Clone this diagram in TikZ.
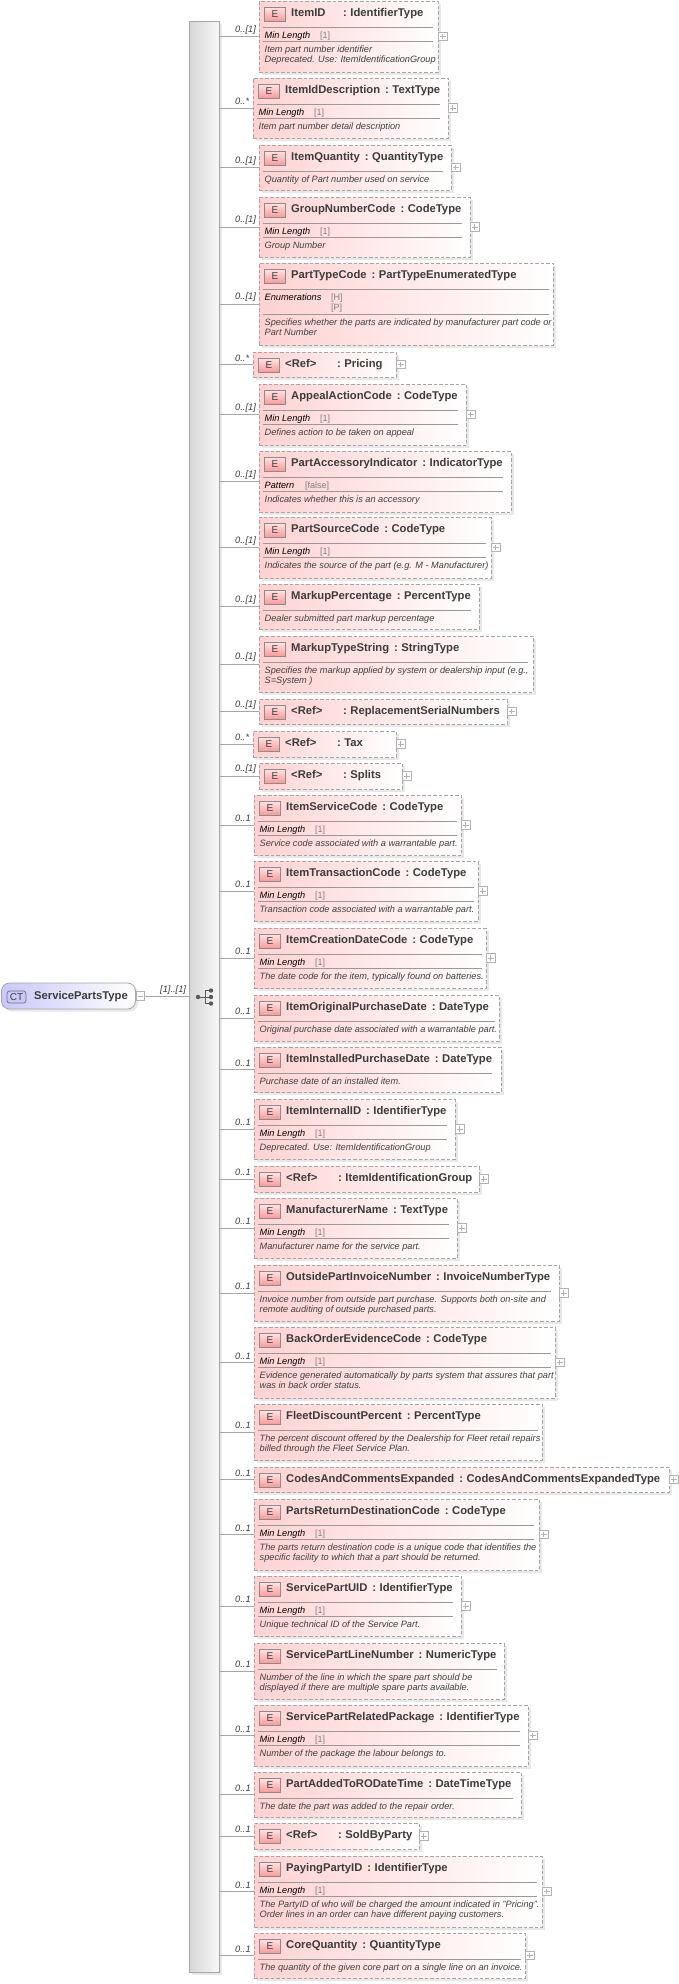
\documentclass[tikz,border=0pt]{standalone}
\usepackage{fontspec}
\setmainfont{Liberation Sans}
\usetikzlibrary{shadows}
\definecolor{linegrey}{HTML}{A6A6A6}
\definecolor{elempink}{HTML}{FFD2D2}
\definecolor{elemmid}{HTML}{FFF0F0}
\definecolor{badgetop}{HTML}{FFE4E4}
\definecolor{badgebottom}{HTML}{F99A9A}
\definecolor{rootblue}{HTML}{C8C8FA}
\definecolor{rootmid}{HTML}{EEEEFF}
\definecolor{titlecol}{HTML}{3C3C3C}
\definecolor{doccol}{HTML}{404040}
\tikzset{
  softshadow/.style={drop shadow={shadow xshift=2.5pt,shadow yshift=-2.5pt,fill=black!9,opacity=1}},
  elemshape/.style={rectangle,anchor=north west,inner sep=0pt,outer sep=0pt,draw=linegrey,dashed,dash pattern=on 3.5pt off 2pt,line width=0.8pt,left color=elempink,middle color=elemmid,right color=white,softshadow},
  seqshape/.style={rectangle,anchor=north west,inner sep=0pt,outer sep=0pt,draw=linegrey,line width=0.8pt,left color=black!16,right color=black!3,softshadow},
  rootshape/.style={rectangle,rounded corners=8pt,anchor=north west,inner sep=0pt,outer sep=0pt,draw=linegrey,line width=0.8pt,left color=rootblue,middle color=rootmid,right color=white,softshadow},
  elembadge/.style={rectangle,anchor=north west,inner sep=0pt,outer sep=0pt,minimum width=21pt,minimum height=14pt,draw=black!45,line width=0.7pt,top color=badgetop,bottom color=badgebottom,text=doccol,font=\fontsize{10}{12}\selectfont},
  rootbadge/.style={rectangle,rounded corners=2.5pt,anchor=north west,inner sep=0pt,outer sep=0pt,minimum width=19pt,minimum height=12pt,draw=black!55,line width=0.7pt,fill=rootblue,text=doccol,font=\fontsize{10}{12}\selectfont},
  titletext/.style={anchor=base west,inner sep=0pt,text=titlecol,font=\fontsize{11.25}{13}\selectfont\bfseries},
  smalltext/.style={anchor=north west,inner sep=0pt,align=left,font=\fontsize{9.2}{10}\selectfont\itshape},
  doctext/.style={smalltext,text=doccol},
  facetlabel/.style={smalltext,text=black},
  facetvalue/.style={anchor=north west,inner sep=0pt,align=left,text=black!50,font=\fontsize{9}{10}\selectfont},
  multtext/.style={anchor=west,inner sep=0pt,text=titlecol,font=\fontsize{9.3}{11}\selectfont\itshape},
  conn/.style={draw=linegrey,line width=0.8pt},
  sepline/.style={draw=black!40,line width=0.6pt},
  plusnode/.style={rectangle,anchor=west,inner sep=0pt,outer sep=0pt,minimum size=8.5pt,draw=black!30,line width=0.6pt,fill=white,xshift=0.5pt},
  icondot/.style={circle,inner sep=0pt,outer sep=0pt,minimum size=4.4pt,fill=black!65},
  iconline/.style={draw=black!65,line width=1pt}
}
\newcommand{\typecolon}{\hskip5pt:\hskip3.5pt}
\newcommand{\shortname}[1]{\makebox[47pt][l]{#1}}
\newcommand{\linetop}{\rule{0pt}{7pt}}
\newcommand{\elembox}[8]{
  \pgfmathsetmacro{\boxw}{#4-#2}
  \pgfmathsetmacro{\boxh}{#5-#3}
  \pgfmathsetmacro{\midy}{(#3+#5)/2}
  \def\curname{#1}\def\curleft{#2}\def\curtop{#3}\def\sepend{#8}
  \node[elemshape,minimum width=\boxw pt,minimum height=\boxh pt] (#1) at (#2,#3) {};
  \draw[conn] (seq.east |- #1.west) -- (#1.west);
  \node[multtext] (#1-mult) at (235,\midy-6.5) {#6};
  \node[elembadge] (#1-badge) at (#2+5.5,#3+6) {E};
  \node[titletext] (#1-title) at (#2+32,#3+15) {#7};
}
\newcommand{\facetrow}[3]{
  \draw[sepline] (\curleft+4,\curtop+26) -- (\sepend,\curtop+26);
  \node[facetlabel] (\curname-facet) at (\curleft+5.5,\curtop+30) {\linetop #1};
  \node[facetvalue] (\curname-value) at (\curleft+#3,\curtop+30) {\linetop #2};
}
\newcommand{\docrow}[2][40]{
  \draw[sepline] (\curleft+4,\curtop+#1) -- (\sepend,\curtop+#1);
  \node[doctext] (\curname-doc) at (\curleft+5.5,\curtop+#1+4) {\linetop #2};
}
\newcommand{\plusbox}{
  \node[plusnode] (\curname-plus) at (\curname.east) {};
  \draw[draw=black!30,line width=0.6pt] (\curname-plus.west) ++(1.5,0) -- ++(5.5,0);
  \draw[draw=black!30,line width=0.6pt] (\curname-plus.north) ++(0,1.5) -- ++(0,5.5);
}
\begin{document}
\begin{tikzpicture}[x=1pt,y=-1pt]
\path[use as bounding box,fill=white] (0,0) rectangle (679,1984);
\node[seqshape,minimum width=30pt,minimum height=1951pt] (seq) at (189,21) {};
\node[icondot] (seqstart) at (198,997) {};
\node[icondot] (seqtop) at (211,990.5) {};
\node[icondot] (seqmid) at (211,997) {};
\node[icondot] (seqlow) at (211,1003.5) {};
\draw[iconline] (seqstart) -- (seqmid);
\draw[iconline] (205,990.5) -- (seqtop);
\draw[iconline] (205,1003.5) -- (seqlow);
\draw[iconline] (205,990) -- (205,1004);
\node[rootshape,minimum width=134pt,minimum height=26pt] (root) at (1.5,983) {};
\node[rootbadge] (rootct) at (7,991) {CT};
\node[titletext] (roottitle) at (34,999) {ServicePartsType};
\node[plusnode] (rootminus) at (root.east) {};
\draw[draw=black!30,line width=0.6pt] (rootminus.west) ++(1.5,0) -- ++(5.5,0);
\draw[conn] (rootminus.east) -- (seq.west |- rootminus.east);
\node[multtext] (rootmult) at (160,990) {[1]..[1]};

\elembox{itemid}{259}{1}{438}{72}{0..[1]}{\shortname{ItemID}\typecolon IdentifierType}{433}
\facetrow{Min Length}{[1]}{61}
\docrow{Item part number identifier\\Deprecated. Use: ItemIdentificationGroup}
\plusbox
\elembox{itemiddescription}{253}{78}{448}{138}{0..*}{ItemIdDescription\typecolon TextType}{440}
\facetrow{Min Length}{[1]}{61}
\docrow{Item part number detail description}
\plusbox
\elembox{itemquantity}{259}{145}{451}{190}{0..[1]}{ItemQuantity\typecolon QuantityType}{443}
\docrow[26]{Quantity of Part number used on service}
\plusbox
\elembox{groupnumbercode}{259}{197}{470}{257}{0..[1]}{GroupNumberCode\typecolon CodeType}{462}
\facetrow{Min Length}{[1]}{61}
\docrow{Group Number}
\plusbox
\elembox{parttypecode}{259}{263}{553}{345}{0..[1]}{PartTypeCode\typecolon PartTypeEnumeratedType}{549}
\facetrow{Enumerations}{[H]\\{}[P]}{72}
\docrow[51]{Specifies whether the parts are indicated by manufacturer part code or\\Part Number}
\elembox{pricing}{253}{352}{396}{377}{0..*}{\shortname{<Ref>}\typecolon Pricing}{391}
\plusbox
\elembox{appealactioncode}{259}{384}{466}{445}{0..[1]}{AppealActionCode\typecolon CodeType}{458}
\facetrow{Min Length}{[1]}{61}
\docrow{Defines action to be taken on appeal}
\plusbox
\elembox{partaccessoryindicator}{259}{451}{511}{512}{0..[1]}{PartAccessoryIndicator\typecolon IndicatorType}{503}
\facetrow{Pattern}{[false]}{46}
\docrow{Indicates whether this is an accessory}
\elembox{partsourcecode}{259}{517}{491}{578}{0..[1]}{PartSourceCode\typecolon CodeType}{486}
\facetrow{Min Length}{[1]}{61}
\docrow{Indicates the source of the part (e.g. M - Manufacturer)}
\plusbox
\elembox{markuppercentage}{259}{584}{479}{629}{0..[1]}{MarkupPercentage\typecolon PercentType}{471}
\docrow[26]{Dealer submitted part markup percentage}
\elembox{markuptypestring}{259}{636}{533}{692}{0..[1]}{MarkupTypeString\typecolon StringType}{528}
\docrow[26]{Specifies the markup applied by system or dealership input (e.g.,\\S=System )}
\elembox{replacementserial}{259}{699}{507}{724}{0..[1]}{\shortname{<Ref>}\typecolon ReplacementSerialNumbers}{502}
\plusbox
\elembox{tax}{253}{731}{396}{757}{0..*}{\shortname{<Ref>}\typecolon Tax}{391}
\plusbox
\elembox{splits}{259}{763}{402}{789}{0..[1]}{\shortname{<Ref>}\typecolon Splits}{397}
\plusbox
\elembox{itemservicecode}{254}{795}{461}{855}{0..1}{ItemServiceCode\typecolon CodeType}{457}
\facetrow{Min Length}{[1]}{61}
\docrow{Service code associated with a warrantable part.}
\plusbox
\elembox{itemtransactioncode}{254}{861}{478}{921}{0..1}{ItemTransactionCode\typecolon CodeType}{474}
\facetrow{Min Length}{[1]}{61}
\docrow{Transaction code associated with a warrantable part.}
\plusbox
\elembox{itemcreationdatecode}{254}{928}{486}{988}{0..1}{ItemCreationDateCode\typecolon CodeType}{482}
\facetrow{Min Length}{[1]}{61}
\docrow{The date code for the item, typically found on batteries.}
\plusbox
\elembox{itemoriginalpurchasedate}{254}{995}{499}{1041}{0..1}{ItemOriginalPurchaseDate\typecolon DateType}{495}
\docrow[26]{Original purchase date associated with a warrantable part.}
\elembox{iteminstalledpurchasedate}{254}{1047}{501}{1092}{0..1}{ItemInstalledPurchaseDate\typecolon DateType}{492}
\docrow[26]{Purchase date of an installed item.}
\elembox{iteminternalid}{254}{1099}{455}{1159}{0..1}{ItemInternalID\typecolon IdentifierType}{447}
\facetrow{Min Length}{[1]}{61}
\docrow{Deprecated. Use: ItemIdentificationGroup}
\plusbox
\elembox{itemidentificationgroup}{254}{1166}{479}{1192}{0..1}{\shortname{<Ref>}\typecolon ItemIdentificationGroup}{474}
\plusbox
\elembox{manufacturername}{254}{1198}{457}{1258}{0..1}{ManufacturerName\typecolon TextType}{449}
\facetrow{Min Length}{[1]}{61}
\docrow{Manufacturer name for the service part.}
\plusbox
\elembox{outsidepartinvoicenumber}{254}{1265}{559}{1321}{0..1}{OutsidePartInvoiceNumber\typecolon InvoiceNumberType}{551}
\docrow[26]{Invoice number from outside part purchase. Supports both on-site and\\remote auditing of outside purchased parts.}
\plusbox
\elembox{backorderevidencecode}{254}{1327}{555}{1398}{0..1}{BackOrderEvidenceCode\typecolon CodeType}{551}
\facetrow{Min Length}{[1]}{61}
\docrow{Evidence generated automatically by parts system that assures that part\\was in back order status.}
\plusbox
\elembox{fleetdiscountpercent}{254}{1404}{542}{1460}{0..1}{FleetDiscountPercent\typecolon PercentType}{538}
\docrow[26]{The percent discount offered by the Dealership for Fleet retail repairs\\billed through the Fleet Service Plan.}
\elembox{codesandcomments}{254}{1467}{669}{1492}{0..1}{CodesAndCommentsExpanded\typecolon CodesAndCommentsExpandedType}{664}
\plusbox
\elembox{partsreturndestinationcode}{254}{1499}{539}{1570}{0..1}{PartsReturnDestinationCode\typecolon CodeType}{534}
\facetrow{Min Length}{[1]}{61}
\docrow{The parts return destination code is a unique code that identifies the\\specific facility to which that a part should be returned.}
\plusbox
\elembox{servicepartuid}{254}{1576}{461}{1636}{0..1}{ServicePartUID\typecolon IdentifierType}{453}
\facetrow{Min Length}{[1]}{61}
\docrow{Unique technical ID of the Service Part.}
\plusbox
\elembox{servicepartlinenumber}{254}{1643}{504}{1699}{0..1}{ServicePartLineNumber\typecolon NumericType}{497}
\docrow[26]{Number of the line in which the spare part should be\\displayed if there are multiple spare parts available.}
\elembox{servicepartrelatedpackage}{254}{1705}{528}{1766}{0..1}{ServicePartRelatedPackage\typecolon IdentifierType}{520}
\facetrow{Min Length}{[1]}{61}
\docrow{Number of the package the labour belongs to.}
\plusbox
\elembox{partaddedtorodatetime}{254}{1772}{521}{1817}{0..1}{PartAddedToRODateTime\typecolon DateTimeType}{513}
\docrow[26]{The date the part was added to the repair order.}
\elembox{soldbyparty}{254}{1823}{419}{1849}{0..1}{\shortname{<Ref>}\typecolon SoldByParty}{414}
\plusbox
\elembox{payingpartyid}{254}{1856}{542}{1927}{0..1}{PayingPartyID\typecolon IdentifierType}{537}
\facetrow{Min Length}{[1]}{61}
\docrow{The PartyID of who will be charged the amount indicated in "Pricing".\\Order lines in an order can have different paying customers.}
\plusbox
\elembox{corequantity}{254}{1933}{525}{1978}{0..1}{CoreQuantity\typecolon QuantityType}{521}
\docrow[26]{The quantity of the given core part on a single line on an invoice.}
\plusbox
\end{tikzpicture}
\end{document}
